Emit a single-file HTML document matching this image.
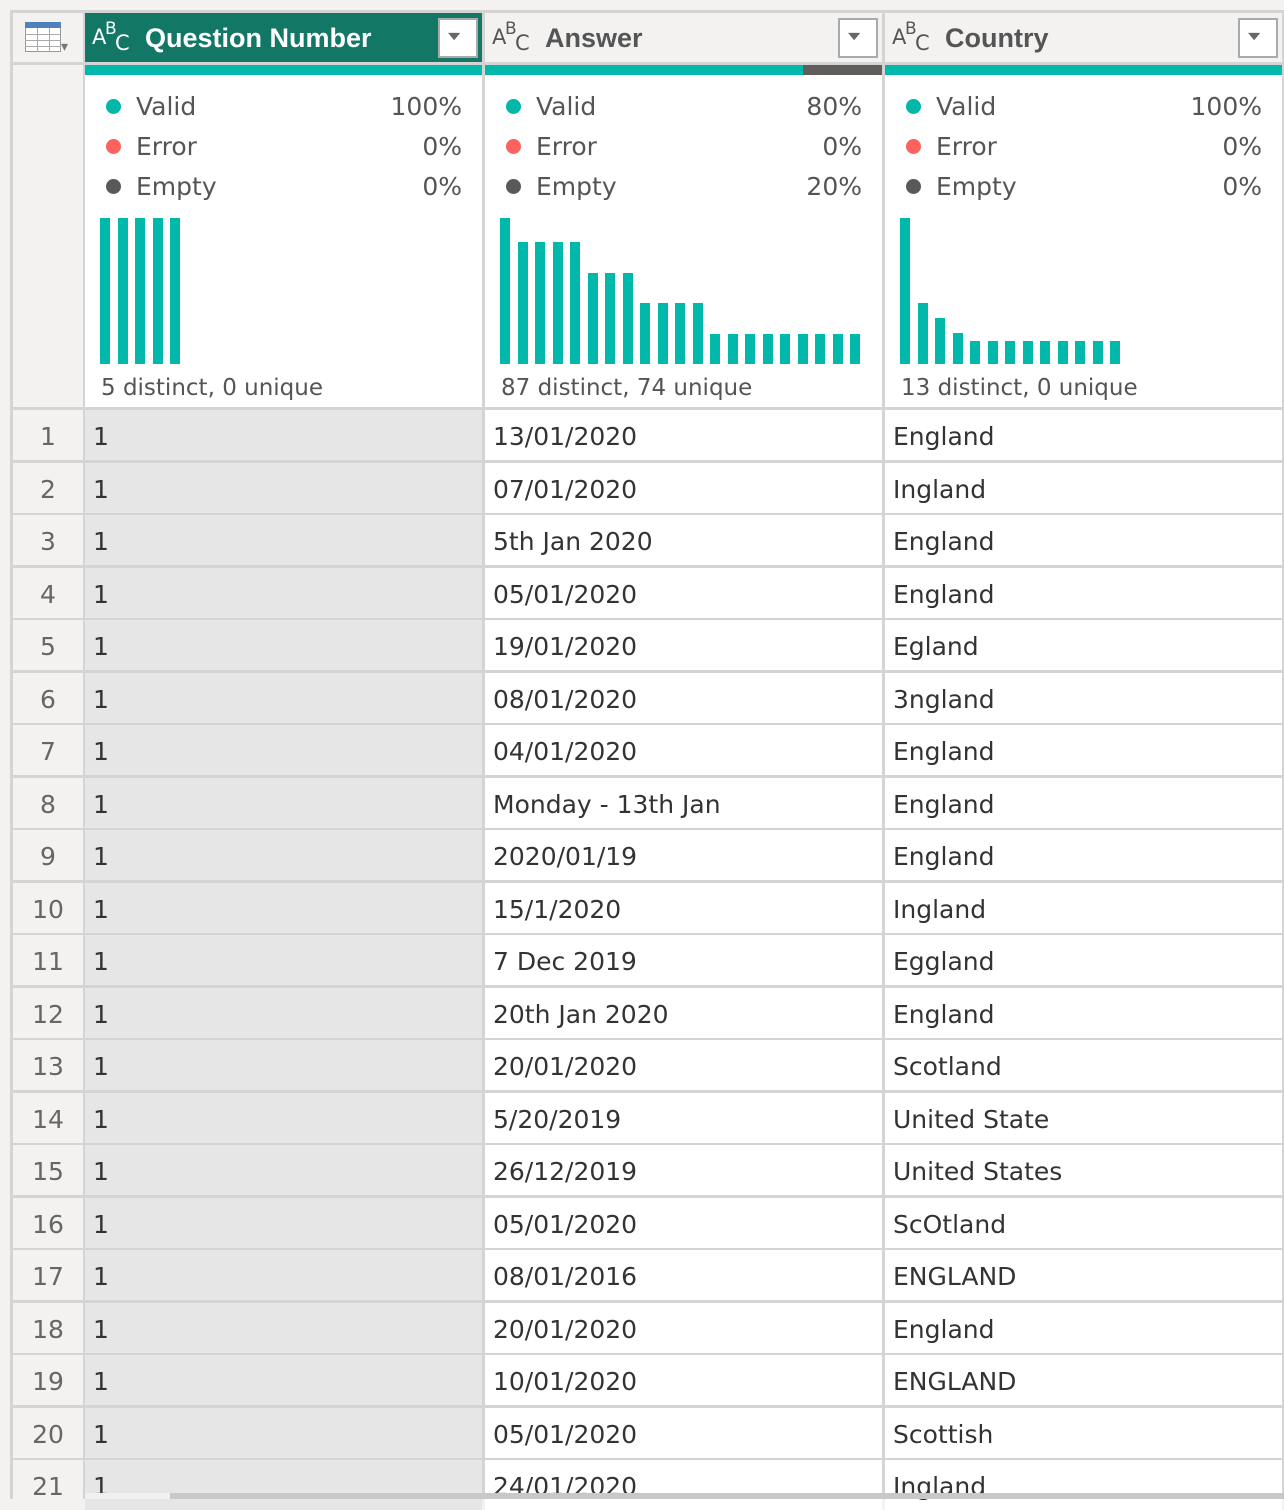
<!DOCTYPE html>
<html><head><meta charset="utf-8">
<style>
body{margin:0;width:1284px;height:1499px;overflow:hidden;background:#f3f2f1;font-family:"DejaVu Sans","Liberation Sans",sans-serif;position:relative}
.a{position:absolute;box-sizing:border-box}
.t{position:absolute;white-space:nowrap;line-height:1}
</style></head><body>
<div id="root"></div>
<script>
const colNames=["Question Number","Answer","Country"];
const validPct=["100%","80%","100%"];
const errorPct=["0%","0%","0%"];
const emptyPct=["0%","20%","0%"];
const distinctLabels=["5 distinct, 0 unique","87 distinct, 74 unique","13 distinct, 0 unique"];
const qnCounts=[4,4,4,4,4];
const answerCounts=[24,20,20,20,20,15,15,15,10,10,10,10,5,5,5,5,5,5,5,5,5];
const countryCounts=[19,8,6,4,3,3,3,3,3,3,3,3,3];
const qnValues=["1","1","1","1","1","1","1","1","1","1","1","1","1","1","1","1","1","1","1","1","1"];
const answerValues=["13/01/2020","07/01/2020","5th Jan 2020","05/01/2020","19/01/2020","08/01/2020","04/01/2020","Monday - 13th Jan","2020/01/19","15/1/2020","7 Dec 2019","20th Jan 2020","20/01/2020","5/20/2019","26/12/2019","05/01/2020","08/01/2016","20/01/2020","10/01/2020","05/01/2020","24/01/2020"];
const countryValues=["England","Ingland","England","England","Egland","3ngland","England","England","England","Ingland","Eggland","England","Scotland","United State","United States","ScOtland","ENGLAND","England","ENGLAND","Scottish","Ingland"];

const root=document.getElementById('root');
function box(x,y,w,h,bg,name){const d=document.createElement('div');d.className='a';d.style.cssText=`left:${x}px;top:${y}px;width:${w}px;height:${h}px;background:${bg}`;


root.appendChild(d);return d;}
function txt(x,y,s,size,color,name,extra){const d=document.createElement('div');d.className='t';d.textContent=s;d.style.cssText=`left:${x}px;top:${y}px;font-size:${size}px;color:${color};${extra||''}`;


root.appendChild(d);return d;}

box(10,10,1274,1489,'#d4d4d4','grid-frame');
box(13,13,70,49,'#f3f2f1','table-menu-cell');
box(13,65,70,342,'#f3f2f1','profile-row-number-cell');
const ic=box(25,22,36,30,'#fff','table-icon');ic.style.border='1px solid #999';
box(25,22,36,6,'#4f81bd','table-icon-top');
for(let i=1;i<3;i++)box(25+i*12,28,1,24,'#aaa','table-icon-line');
for(let i=1;i<4;i++)box(25,28+i*6,36,1,'#aaa','table-icon-line');
txt(61,40,'▾',14,'#777','table-menu-arrow');

const colX=[85,485,885],colW=397;
const counts=[qnCounts,answerCounts,countryCounts];
const headBg=['#127865','#f3f2f1','#f3f2f1'];
const headCol=['#fff','#555','#555'];
for(let c=0;c<3;c++){
 const x=colX[c];
 const h=box(x,13,colW,49,headBg[c],'column-header-'+c);
 txt(x+7,27,'A',21,headCol[c],'type-icon');txt(x+20,21,'B',17,headCol[c],'type-icon');txt(x+30,33,'C',21,headCol[c],'type-icon');
 txt(x+60,25,colNames[c],27,headCol[c],'column-title','font-weight:bold;font-family:"Liberation Sans",sans-serif');
 const dd=box(x+353,18,40,40,'#fff','filter-dropdown');dd.style.border='2px solid #aaa';
 txt(x+363,28,'▼',16,'#666','dropdown-arrow','transform:scaleY(0.6)');
 const vw=c==1?318:colW;
 box(x,65,vw,10,'#01b8aa','quality-valid');
 if(c==1)box(x+vw,65,colW-vw,10,'#605e5c','quality-empty');
 box(x,75,colW,332,'#fff','profile-area');
 const labels=[['Valid',validPct[c],'#01b8aa'],['Error',errorPct[c],'#fd625e'],['Empty',emptyPct[c],'#595959']];
 labels.forEach((l,i)=>{const y=106+i*40;
  const dot=box(x+21,y-7,15,15,l[2],'legend-dot');dot.style.borderRadius='50%';
  txt(x+51,y-12,l[0],25,'#555','legend-label');
  const p=txt(x+377,y-12,l[1],25,'#555','legend-pct');p.style.transform='translateX(-100%)';
 });
 const arr=counts[c],mx=Math.max(...arr),base=364,H=146;
 arr.forEach((v,i)=>{const bh=v/mx*H;
  box(x+15+i*17.5,base-bh,10,bh,'#01b8aa','histogram-bar');
 });
 txt(x+16,377,distinctLabels[c],23,'#555','distinct-label');
}
const vals=[qnValues,answerValues,countryValues];
const bgs=['#e6e6e6','#fff','#fff'];
for(let r=0;r<21;r++){
 const y=410+r*52.5,h=50;
 box(13,y,70,h,'#f3f2f1','row-number-cell');
 const n=txt(48,y+14,String(r+1),25,'#666','row-number');n.style.transform='translateX(-50%)';
 for(let c=0;c<3;c++){
  box(colX[c],y,colW,h,bgs[c],'cell');
  txt(colX[c]+8,y+14,vals[c][r],25,'#333','cell-text');
 }
}
box(85,1493,1199,6,'#f0f0f0','scrollbar-track');
const sb=box(170,1493,1114,6,'#c8c8c8','horizontal-scrollbar');
</script>
</body></html>
